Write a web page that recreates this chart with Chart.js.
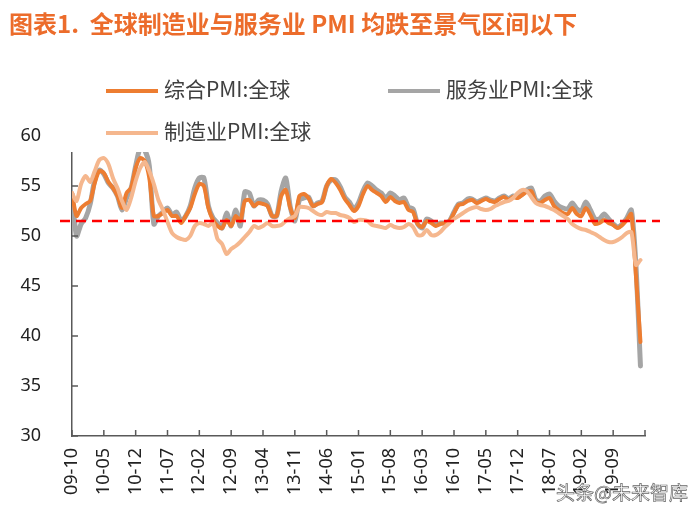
<!DOCTYPE html>
<html>
<head>
<meta charset="utf-8">
<script src="https://cdn.jsdelivr.net/npm/chart.js@4"></script>
<style>
  body { margin: 0; background: #fff; }
  #wrap { position: relative; width: 695px; height: 520px; overflow: hidden; }
  #cover { position: absolute; left: 58px; top: 0; width: 637px; height: 152px; background: #fff; }
  .title { position: absolute; left: 9px; top: 5px; font: bold 24px "Noto Sans CJK SC", sans-serif; color: #EC6C2B; white-space: pre; }
  .item { position: absolute; font: 21px "Noto Sans CJK SC", sans-serif; color: #404040; white-space: nowrap; }
  .item i { display: inline-block; width: 52px; height: 4px; vertical-align: middle; margin-right: 6px; }
  .mark { position: absolute; left: 556px; top: 478px; font: 19px "Noto Sans CJK SC", sans-serif; color: #fff; -webkit-text-stroke: 0.7px #666; }
</style>
</head>
<body>
<div id="wrap">
  <canvas id="pmiChart" width="695" height="520"></canvas>
  <div id="cover"></div>
  <div class="title">图表1.  全球制造业与服务业 PMI 均跌至景气区间以下</div>
  <div class="item" style="left:106px;top:73px"><i style="background:#ED7D31"></i>综合PMI:全球</div>
  <div class="item" style="left:388px;top:73px"><i style="background:#A5A5A5"></i>服务业PMI:全球</div>
  <div class="item" style="left:106px;top:115px"><i style="background:#F5B78E"></i>制造业PMI:全球</div>
  <div class="mark">头条@未来智库</div>
</div>
<script>
const tickLabels = ['09-10', '10-05', '10-12', '11-07', '12-02', '12-09', '13-04', '13-11', '14-06',
  '15-01', '15-08', '16-03', '16-10', '17-05', '17-12', '18-07', '19-02', '19-09'];

// monthly values, 2009-10 .. 2020-03
const composite = [
  54.3, 52.0, 52.8, 53.2, 53.5, 55.3, 56.5, 56.3, 55.4, 54.8,
  54.0, 52.8, 54.3, 54.8, 56.8, 57.8, 57.5, 55.8, 52.0, 52.0,
  52.3, 52.6, 52.0, 52.0, 51.3, 52.0, 52.8, 54.2, 55.2, 55.0,
  52.8, 51.6, 51.0, 50.8, 51.6, 51.0, 52.0, 51.5, 53.5, 53.6,
  53.0, 53.3, 53.2, 53.0, 52.0, 52.0, 54.0, 54.6, 52.8, 51.8,
  54.0, 54.2, 53.8, 53.0, 53.2, 53.4, 55.0, 55.7, 55.3, 54.6,
  53.7, 53.1, 52.5, 53.0, 54.2, 55.0, 54.6, 54.3, 54.0, 53.4,
  53.9, 53.5, 53.3, 53.4, 52.6, 52.4, 51.2, 50.9, 51.5, 51.3,
  51.0, 51.2, 51.3, 51.5, 52.3, 53.1, 53.2, 53.5, 53.6, 53.3,
  53.5, 53.7, 53.5, 53.4, 53.7, 53.9, 53.6, 53.9, 53.8, 54.1,
  54.4, 54.5, 53.4, 53.3, 53.6, 53.8, 53.0, 52.6, 52.3, 52.2,
  52.8, 52.2, 52.0, 52.8, 52.1, 51.2, 51.3, 51.6, 51.3, 51.1,
  50.8, 51.1, 51.6, 52.2, 46.1, 39.4
];
const services = [
  54.2, 50.0, 51.2, 51.8, 53.2, 55.6, 56.6, 56.2, 55.3, 54.8,
  54.0, 52.6, 53.8, 54.8, 57.0, 58.8, 58.6, 57.0, 51.2, 52.0,
  52.4, 52.8, 52.1, 52.4, 51.5, 52.0, 53.0, 54.8, 55.8, 55.8,
  53.0, 51.8, 51.3, 50.8, 52.3, 51.0, 52.6, 51.0, 54.4, 54.3,
  53.0, 53.6, 53.6, 53.2, 52.0, 52.0, 54.5, 55.8, 52.9, 51.5,
  53.6, 53.8, 53.9, 53.0, 53.3, 53.5, 55.0, 55.6, 55.6, 54.9,
  53.9, 53.4, 52.7, 53.3, 54.5, 55.3, 55.0, 54.6, 54.3, 53.8,
  54.3, 54.0, 53.6, 53.8, 52.9, 52.7, 51.2, 50.8, 51.7, 51.5,
  51.1, 51.3, 51.3, 51.5, 52.4, 53.2, 53.3, 53.7, 53.7, 53.4,
  53.6, 53.8, 53.6, 53.5, 53.8, 54.0, 53.7, 54.0, 53.9, 54.2,
  54.6, 54.8, 53.6, 53.5, 54.0, 54.2, 53.5, 53.0, 52.8, 52.7,
  53.3, 52.7, 52.5, 53.4, 52.6, 51.7, 51.7, 52.2, 51.7, 51.2,
  50.9, 51.2, 51.8, 52.6, 47.1, 37.0
];
const manufacturing = [
  54.3, 53.5, 55.2, 56.0, 55.4, 56.5, 57.6, 57.8, 57.2, 55.8,
  54.8, 53.5, 52.6, 53.8, 55.5, 56.8, 57.4, 56.5, 55.2, 53.6,
  52.6, 51.4, 50.3, 49.9, 49.7, 49.6, 50.0, 51.0, 51.3, 51.2,
  51.0, 51.3, 49.7, 49.2, 48.2, 48.7, 49.0, 49.4, 49.9, 50.4,
  51.0, 50.8, 51.0, 51.3, 51.0, 51.0, 51.1, 51.5, 51.8, 52.0,
  52.9, 52.9, 52.8, 52.5, 52.2, 52.1, 52.4, 52.3, 52.3, 52.1,
  52.0, 51.8, 51.4, 51.6, 51.6, 51.5, 51.1, 51.0, 50.9, 50.8,
  51.1, 50.9, 50.8, 50.9, 51.2, 50.9, 50.1, 50.1, 50.6, 50.1,
  50.1, 50.4, 50.9, 51.3, 51.7, 52.0, 52.3, 52.6, 52.8, 52.9,
  52.7, 52.6, 52.7, 53.0, 53.2, 53.4, 53.5, 53.8, 54.3, 54.6,
  54.5, 53.9, 53.3, 53.1, 53.0, 52.8, 52.6, 52.3, 52.0, 51.7,
  51.2, 50.9, 50.7, 50.6, 50.4, 50.2, 49.9, 49.6, 49.4, 49.4,
  49.6, 49.9, 50.3, 50.4, 47.1, 47.6
];
const refLevel = 51.5;
const tickStep = 7;

const toPoints = arr => arr.map((v, i) => ({ x: i, y: v }));
const axisFont = { family: '"Noto Sans", sans-serif', size: 18 };

// tick marks pointing into the plot + red dashed reference line
const decorations = {
  id: 'decorations',
  afterDatasetsDraw(chart) {
    const { ctx, chartArea, scales: { x, y } } = chart;
    ctx.save();
    ctx.strokeStyle = '#595959';
    ctx.lineWidth = 1.5;
    x.ticks.forEach(t => {
      const px = x.getPixelForValue(t.value);
      ctx.beginPath();
      ctx.moveTo(px, chartArea.bottom);
      ctx.lineTo(px, chartArea.bottom - 6);
      ctx.stroke();
    });
    y.ticks.forEach(t => {
      const py = y.getPixelForValue(t.value);
      ctx.beginPath();
      ctx.moveTo(chartArea.left, py);
      ctx.lineTo(chartArea.left + 6, py);
      ctx.stroke();
    });
    const ry = y.getPixelForValue(refLevel);
    ctx.strokeStyle = '#FF0000';
    ctx.lineWidth = 2.5;
    ctx.setLineDash([10, 6]);
    ctx.beginPath();
    ctx.moveTo(chartArea.left - 12, ry);
    ctx.lineTo(chartArea.right + 15, ry);
    ctx.stroke();
    ctx.restore();
  }
};

new Chart(document.getElementById('pmiChart'), {
  type: 'line',
  data: {
    datasets: [
      { label: '制造业PMI:全球', data: toPoints(manufacturing), borderColor: '#F5B78E', borderWidth: 4 },
      { label: '综合PMI:全球', data: toPoints(composite), borderColor: '#ED7D31', borderWidth: 4 },
      { label: '服务业PMI:全球', data: toPoints(services), borderColor: '#A5A5A5', borderWidth: 5 },
    ]
  },
  options: {
    responsive: false,
    animation: false,
    layout: { padding: { left: 10, top: 136, right: 50, bottom: 0 } },
    elements: {
      point: { radius: 0 },
      line: { tension: 0.25, borderJoinStyle: 'round', borderCapStyle: 'round' }
    },
    plugins: { legend: { display: false }, tooltip: { enabled: false } },
    scales: {
      x: {
        type: 'linear',
        min: 0,
        max: tickLabels.length * tickStep,
        afterBuildTicks: s => {
          s.ticks = [];
          for (let v = 0; v <= tickLabels.length * tickStep; v += tickStep) s.ticks.push({ value: v });
        },
        afterFit: s => { s.height = 84; },
        ticks: {
          autoSkip: false,
          minRotation: 90,
          maxRotation: 90,
          padding: 4,
          color: '#222',
          font: axisFont,
          callback: v => tickLabels[v / tickStep] || ''
        },
        grid: { display: false },
        border: { display: true, color: '#595959', width: 1.5 }
      },
      y: {
        min: 30,
        max: 60,
        afterFit: s => { s.width = 62; },
        ticks: { stepSize: 5, padding: 23, color: '#222', font: axisFont },
        grid: { display: false },
        border: { display: true, color: '#595959', width: 1.5 }
      }
    }
  },
  plugins: [decorations]
});
</script>
</body>
</html>
